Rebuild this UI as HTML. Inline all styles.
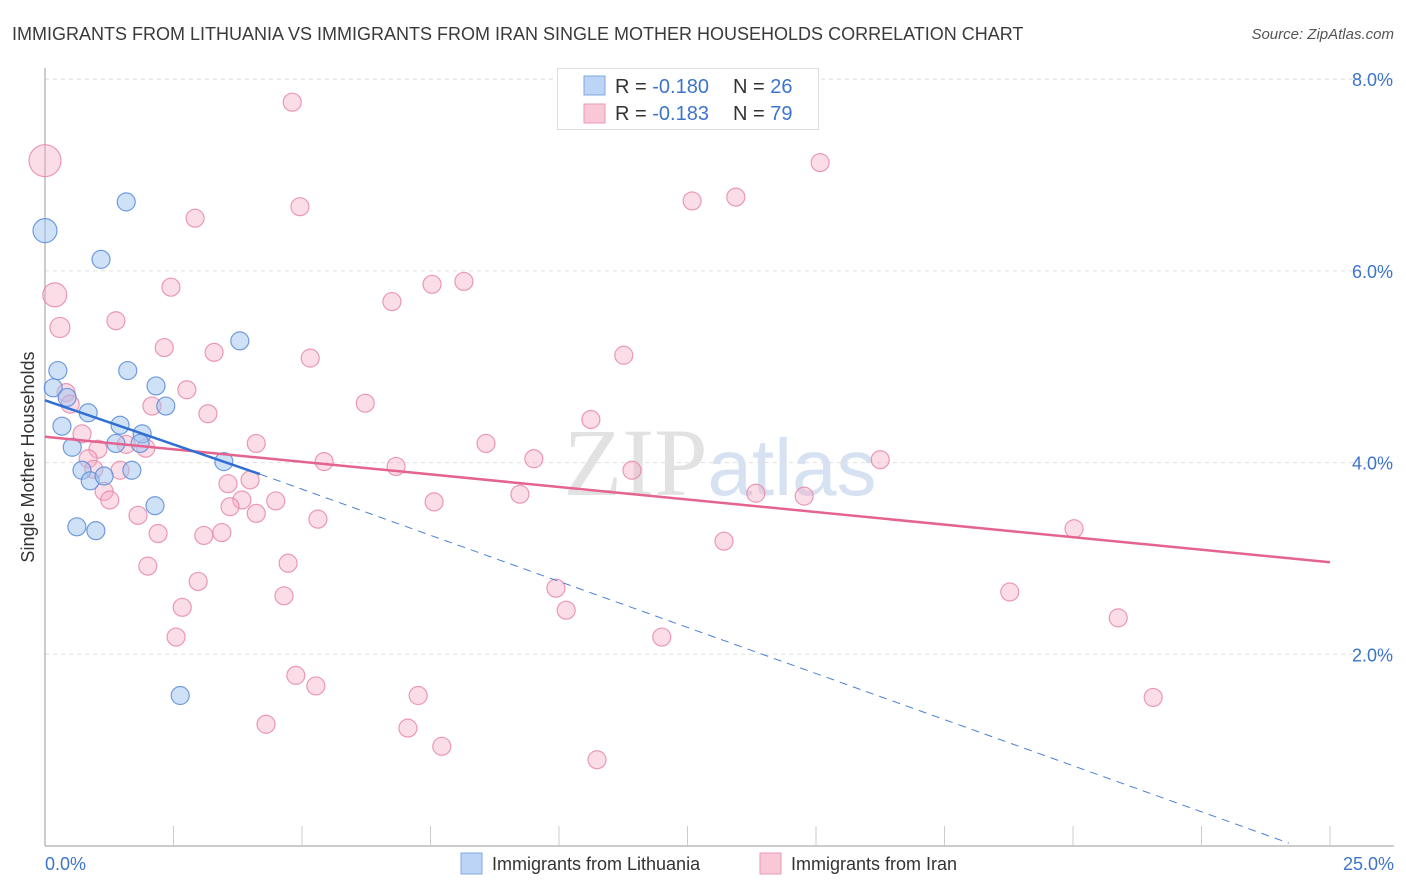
<!DOCTYPE html>
<html><head><meta charset="utf-8"><style>
body{margin:0;background:#fff;font-family:"Liberation Sans",sans-serif;}
svg{display:block}
</style></head><body>
<svg id="chart" width="1406" height="892" xmlns="http://www.w3.org/2000/svg">
<text x="12" y="40" font-size="18" fill="#3a3a3a">IMMIGRANTS FROM LITHUANIA VS IMMIGRANTS FROM IRAN SINGLE MOTHER HOUSEHOLDS CORRELATION CHART</text>
<text x="1394" y="39" font-size="15" fill="#555" font-style="italic" text-anchor="end">Source: ZipAtlas.com</text>
<text x="34" y="457" font-size="18" fill="#333" text-anchor="middle" transform="rotate(-90 34 457)">Single Mother Households</text>
<text x="720" y="495" font-size="96" fill="#e2e2e2" text-anchor="middle" font-family="Liberation Serif,serif">ZIP<tspan fill="#d6e2f2" font-family="Liberation Sans,sans-serif" font-size="80">atlas</tspan></text>
<g id="grid"></g><g id="axes"></g><g id="pink"></g><g id="blue"></g><g id="lines"></g>
<g>
<rect x="557.5" y="68.5" width="261" height="61" fill="#fff" stroke="#ddd"/>
<rect x="584" y="76" width="21" height="19" fill="#bcd4f5" stroke="#7ea8e0"/>
<rect x="584" y="104" width="21" height="19" fill="#f9c8d7" stroke="#eb9ab4"/>
<text x="615" y="93" font-size="20" fill="#333">R = <tspan fill="#3d74cc">-0.180</tspan><tspan x="733">N = </tspan><tspan fill="#3d74cc">26</tspan></text>
<text x="615" y="120" font-size="20" fill="#333">R = <tspan fill="#3d74cc"> -0.183</tspan><tspan x="733">N = </tspan><tspan fill="#3d74cc">79</tspan></text>
</g>
<g>
<rect x="461" y="853" width="21" height="21" fill="#bcd4f5" stroke="#7ea8e0"/>
<text x="492" y="870" font-size="18" fill="#333">Immigrants from Lithuania</text>
<rect x="760" y="853" width="21" height="21" fill="#f9c8d7" stroke="#eb9ab4"/>
<text x="791" y="870" font-size="18" fill="#333">Immigrants from Iran</text>
</g>
</svg>
<script>
const yTicks=[2,4,6,8];
const yTickLabels=["2.0%","4.0%","6.0%","8.0%"];
const xTickLabels=["0.0%","25.0%"];
const blueX=[0.00,1.58,1.09,3.79,0.25,1.61,2.16,2.35,0.16,0.43,0.84,0.33,1.46,1.89,1.38,1.85,0.53,3.48,0.72,1.69,0.88,1.15,2.14,0.62,0.99,2.63];
const blueY=[6.42,6.72,6.12,5.27,4.96,4.96,4.80,4.59,4.78,4.68,4.52,4.38,4.39,4.30,4.20,4.20,4.16,4.01,3.92,3.92,3.81,3.86,3.55,3.33,3.29,1.57];
const pinkX=[0,4.81,15.08,2.92,4.96,12.59,13.44,0.19,2.45,7.53,8.15,6.75,0.29,1.38,2.32,3.29,5.16,11.26,2.76,0.41,2.08,0.49,3.17,6.23,10.62,8.58,4.11,0.72,1.58,1.96,1.03,0.84,5.43,9.51,6.83,11.42,16.25,1.46,0.95,3.99,3.56,1.15,9.24,13.83,14.77,3.83,4.49,1.26,7.57,3.60,4.11,5.31,1.81,20.02,2.20,3.09,3.44,13.21,2.00,4.73,2.98,4.65,9.94,2.67,18.77,10.14,2.55,12.00,20.88,4.88,5.27,7.26,21.56,4.30,7.06,7.72,10.74];
const pinkY=[7.15,7.76,7.13,6.55,6.67,6.73,6.77,5.75,5.83,5.86,5.89,5.68,5.41,5.48,5.20,5.15,5.09,5.12,4.76,4.73,4.59,4.61,4.51,4.62,4.45,4.20,4.20,4.30,4.19,4.15,4.14,4.04,4.01,4.04,3.96,3.92,4.03,3.92,3.93,3.82,3.78,3.70,3.67,3.68,3.65,3.61,3.60,3.61,3.59,3.54,3.47,3.41,3.45,3.31,3.26,3.24,3.27,3.18,2.92,2.95,2.76,2.61,2.69,2.49,2.65,2.46,2.18,2.18,2.38,1.78,1.67,1.57,1.55,1.27,1.23,1.04,0.90];
const blueR={0:12};
const pinkR={0:16,7:12,12:10};
const blueTrend=[[0,4.65],[4.18,3.88]];
const blueDash=[[4.18,3.88],[24.2,0.03]];
const pinkTrend=[[0,4.27],[25,2.96]];

const X0=45,X1=1330,Y0=846,PXPER=95.85;
const sx=v=>X0+v*(X1-X0)/25;
const sy=v=>Y0-v*PXPER;
const NS="http://www.w3.org/2000/svg";
function mk(tag,attrs,parent){const e=document.createElementNS(NS,tag);for(const k in attrs)e.setAttribute(k,attrs[k]);parent.appendChild(e);return e;}
const grid=document.getElementById('grid'),axes=document.getElementById('axes');
yTicks.forEach((t,i)=>{
  const l=mk('line',{x1:X0,x2:1394,y1:sy(t),y2:sy(t),stroke:'#e0e0e0','stroke-dasharray':'4,4'},grid);
  
  
  const tx=mk('text',{x:1393,y:sy(t)+7,'font-size':18,fill:'#3d74cc','text-anchor':'end'},axes);
  tx.textContent=yTickLabels[i];
  
  
});
const topl=mk('line',{x1:X0,x2:1394,y1:79,y2:79,stroke:'#e0e0e0','stroke-dasharray':'4,4'},grid);
const yax=mk('line',{x1:X0,x2:X0,y1:68,y2:Y0,stroke:'#bbb','stroke-width':1.5},axes);


const xax=mk('line',{x1:X0,x2:1394,y1:Y0,y2:Y0,stroke:'#bbb','stroke-width':1.5},axes);


for(let i=1;i<=10;i++){
  const tk=mk('line',{x1:sx(i*2.5),x2:sx(i*2.5),y1:Y0-20,y2:Y0,stroke:'#ccc'},axes);
  
  
}
const xl0=mk('text',{x:45,y:870,'font-size':18,fill:'#3d74cc'},axes);xl0.textContent=xTickLabels[0];


const xl1=mk('text',{x:1394,y:870,'font-size':18,fill:'#3d74cc','text-anchor':'end'},axes);xl1.textContent=xTickLabels[1];


const pg=document.getElementById('pink'),bg=document.getElementById('blue');
pinkX.forEach((x,i)=>{
  const c=mk('circle',{cx:sx(x),cy:sy(pinkY[i]),r:pinkR[i]||9,fill:'rgba(245,170,195,0.4)',stroke:'rgba(230,130,165,0.8)','stroke-width':1.2},pg);
  
  
});
blueX.forEach((x,i)=>{
  const c=mk('circle',{cx:sx(x),cy:sy(blueY[i]),r:blueR[i]||9,fill:'rgba(160,195,240,0.5)',stroke:'rgba(90,140,215,0.85)','stroke-width':1.2},bg);
  
  
});
const lg=document.getElementById('lines');
const pl=mk('line',{x1:sx(pinkTrend[0][0]),y1:sy(pinkTrend[0][1]),x2:sx(pinkTrend[1][0]),y2:sy(pinkTrend[1][1]),stroke:'#e4638f','stroke-width':2.5},lg);


const bd=mk('line',{x1:sx(blueDash[0][0]),y1:sy(blueDash[0][1]),x2:sx(blueDash[1][0]),y2:sy(blueDash[1][1]),stroke:'#4a80d6','stroke-width':1,'stroke-dasharray':'8,6'},lg);


const bl=mk('line',{x1:sx(blueTrend[0][0]),y1:sy(blueTrend[0][1]),x2:sx(blueTrend[1][0]),y2:sy(blueTrend[1][1]),stroke:'#2f6fd4','stroke-width':2.5},lg);


</script>
</body></html>
